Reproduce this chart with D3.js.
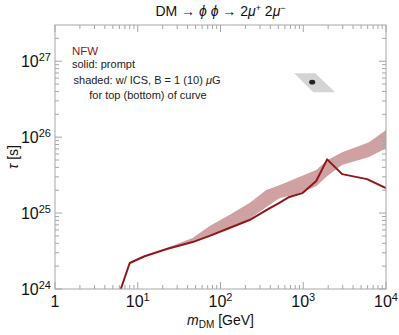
<!DOCTYPE html>
<html>
<head>
<meta charset="utf-8">
<script src="https://cdn.jsdelivr.net/npm/d3@7"></script>
<style>
  body { margin: 0; background: #fff; }
  text { font-family: "Liberation Sans", Arial, sans-serif; }
</style>
</head>
<body>
<div id="viz"></div>
<script>
// prompt curve (solid)
const promptMass = [6.24, 8.0, 12.1, 22.4, 46, 74, 128, 224, 358, 514, 678, 973, 1435, 1945, 2950, 5900, 10000];
const promptTau  = [1.0e24, 2.2e24, 2.7e24, 3.36e24, 4.15e24, 5.0e24, 6.35e24, 8.1e24, 1.09e25, 1.36e25, 1.63e25, 1.83e25, 2.64e25, 5.1e25, 3.26e25, 2.8e25, 2.13e25];

// ICS band (shaded), top = 1 muG, bottom = 10 muG
const bandMass   = [22.4, 46, 74, 128, 224, 358, 514, 895, 1435, 1945, 2950, 6240, 10000];
const bandTop    = [3.46e24, 4.69e24, 6.75e24, 9.42e24, 1.36e25, 2.01e25, 2.33e25, 2.98e25, 3.68e25, 4.98e25, 6.35e25, 8.59e25, 1.24e26];
const bandBottom = [3.31e24, 4.15e24, 4.98e24, 6.15e24, 8.34e24, 1.2e25, 1.57e25, 1.83e25, 2.26e25, 3.07e25, 4.29e25, 5.46e25, 7.16e25];

// gray region + best fit point
const regionMass = [779, 1395, 2430, 1320];
const regionTau  = [6.95e26, 6.95e26, 3.91e26, 3.91e26];
const pointMass = 1283, pointTau = 5.3e26;

const xTickExp = [0, 1, 2, 3, 4];
const yTickExp = [24, 25, 26, 27];

const width = 399, height = 335;
const margin = {left: 55, right: 13, top: 25, bottom: 46};

const svg = d3.select("#viz").append("svg")
  .attr("width", width)
  .attr("height", height);

const xScale = d3.scaleLog().domain([1, 1e4]).range([margin.left, width - margin.right]);
const yScale = d3.scaleLog().domain([1e24, 3e27]).range([height - margin.bottom, margin.top]);

const x0 = xScale.range()[0], x1 = xScale.range()[1];
const y0 = yScale.range()[0], y1 = yScale.range()[1];

svg.append("clipPath").attr("id", "clip")
  .append("rect").attr("x", x0).attr("y", y1).attr("width", x1 - x0).attr("height", y0 - y1);

const plot = svg.append("g").attr("clip-path", "url(#clip)");

// band
const area = d3.area()
  .x(d => xScale(d.m))
  .y0(d => yScale(d.lo))
  .y1(d => yScale(d.hi));
plot.append("path")
  .datum(bandMass.map((m, i) => ({m, lo: bandBottom[i], hi: bandTop[i]})))
  .attr("d", area)
  .attr("fill", "#cfa1a2");

// prompt line
const line = d3.line().x(d => xScale(d.m)).y(d => yScale(d.t));
plot.append("path")
  .datum(promptMass.map((m, i) => ({m, t: promptTau[i]})))
  .attr("d", line)
  .attr("fill", "none")
  .attr("stroke", "#921518")
  .attr("stroke-width", 2)
  .attr("stroke-linejoin", "round");

// gray region
plot.append("polygon")
  .attr("points", regionMass.map((m, i) => [xScale(m), yScale(regionTau[i])].join(",")).join(" "))
  .attr("fill", "#d4d4d4");
plot.append("ellipse")
  .attr("cx", xScale(pointMass))
  .attr("cy", yScale(pointTau))
  .attr("rx", 3).attr("ry", 2.3)
  .attr("fill", "#222");

// frame
const axisColor = "#a6a6a6";
svg.append("rect")
  .attr("x", x0).attr("y", y1)
  .attr("width", x1 - x0).attr("height", y0 - y1)
  .attr("fill", "none").attr("stroke", axisColor).attr("stroke-width", 1);

// ticks
const xMinor = [], yMinor = [];
for (let e = 0; e < 4; e++) for (let k = 2; k <= 9; k++) xMinor.push(k * Math.pow(10, e));
for (let e = 24; e < 28; e++) for (let k = 2; k <= 9; k++) if (k * Math.pow(10, e) <= 3e27) yMinor.push(k * Math.pow(10, e));
const xMajor = xTickExp.map(e => Math.pow(10, e));
const yMajor = yTickExp.map(e => Math.pow(10, e));

const tickG = svg.append("g").attr("stroke", axisColor).attr("stroke-width", 1);
function xTicks(vals, len) {
  vals.forEach(v => {
    const x = xScale(v);
    tickG.append("line").attr("x1", x).attr("x2", x).attr("y1", y0).attr("y2", y0 - len);
    tickG.append("line").attr("x1", x).attr("x2", x).attr("y1", y1).attr("y2", y1 + len);
  });
}
function yTicks(vals, len) {
  vals.forEach(v => {
    const y = yScale(v);
    tickG.append("line").attr("x1", x0).attr("x2", x0 + len).attr("y1", y).attr("y2", y);
    tickG.append("line").attr("x1", x1).attr("x2", x1 - len).attr("y1", y).attr("y2", y);
  });
}
xTicks(xMajor, 7); xTicks(xMinor, 4);
yTicks(yMajor, 7); yTicks(yMinor, 4);

// tick labels
xTickExp.forEach(e => {
  const t = svg.append("text")
    .attr("x", xScale(Math.pow(10, e)))
    .attr("y", y0 + 18)
    .attr("text-anchor", "middle")
    .style("font-size", "16px")
    .attr("fill", "#111");
  if (e === 0) t.text("1");
  else {
    t.append("tspan").text("10");
    t.append("tspan").attr("dy", -6).style("font-size", "11px").text(e);
  }
});
yTickExp.forEach(e => {
  const t = svg.append("text")
    .attr("x", x0 - 4)
    .attr("y", yScale(Math.pow(10, e)) + 6)
    .attr("text-anchor", "end")
    .style("font-size", "16px")
    .attr("fill", "#111");
  t.append("tspan").text("10");
  t.append("tspan").attr("dy", -6).style("font-size", "11px").text(e);
});

// axis titles
const xt = svg.append("text")
  .attr("x", (x0 + x1) / 2)
  .attr("y", 325)
  .attr("text-anchor", "middle")
  .style("font-size", "14px")
  .attr("fill", "#111");
xt.append("tspan").style("font-style", "italic").text("m");
xt.append("tspan").attr("dy", 3).style("font-size", "10px").text("DM");
xt.append("tspan").attr("dy", -3).text(" [GeV]");

svg.append("text")
  .attr("transform", `translate(18, ${(y0 + y1) / 2}) rotate(-90)`)
  .attr("text-anchor", "middle")
  .style("font-size", "14px")
  .attr("fill", "#111")
  .html('<tspan font-style="italic">τ</tspan> [s]');

// title
const title = svg.append("text")
  .attr("x", (x0 + x1) / 2)
  .attr("y", 16)
  .attr("text-anchor", "middle")
  .style("font-size", "14px")
  .attr("fill", "#111");
title.append("tspan").text("DM → ");
title.append("tspan").style("font-style", "italic").text("ϕ ϕ");
title.append("tspan").text(" → 2");
title.append("tspan").style("font-style", "italic").text("μ");
title.append("tspan").attr("dy", -5).style("font-size", "9px").text("+");
title.append("tspan").attr("dy", 5).text(" 2");
title.append("tspan").style("font-style", "italic").text("μ");
title.append("tspan").attr("dy", -5).style("font-size", "9px").text("−");

// legend text
svg.append("text").attr("x", 72).attr("y", 55)
  .style("font-size", "11.5px").attr("fill", "#921518").text("NFW");
svg.append("text").attr("x", 72).attr("y", 68)
  .style("font-size", "11px").attr("fill", "#222").text("solid: prompt");
const sh = svg.append("text").attr("x", 147).attr("y", 84)
  .attr("text-anchor", "middle")
  .style("font-size", "11px").attr("fill", "#222");
sh.append("tspan").text("shaded: w/ ICS, B = 1 (10) ");
sh.append("tspan").style("font-style", "italic").text("μ");
sh.append("tspan").text("G");
svg.append("text").attr("x", 148).attr("y", 99)
  .attr("text-anchor", "middle")
  .style("font-size", "11px").attr("fill", "#222").text("for top (bottom) of curve");
</script>
</body>
</html>
